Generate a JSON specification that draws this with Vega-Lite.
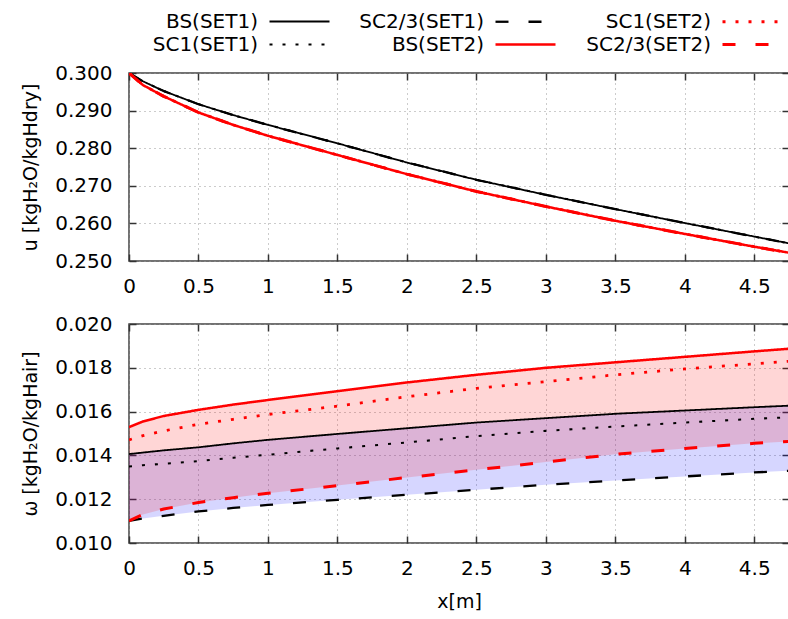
{
  "$schema": "https://vega.github.io/schema/vega-lite/v6.json",
  "background": "white",
  "padding": {"left": 20, "top": 10, "right": 0, "bottom": 0},
  "spacing": 16,
  "datasets": {
    "curves": [
      {"s":"BS(SET1)","m":"BS","set":"SET1","x":0,"u":0.3,"w":0.01406},
      {"s":"BS(SET1)","m":"BS","set":"SET1","x":0.1,"u":0.2978,"w":0.01413},
      {"s":"BS(SET1)","m":"BS","set":"SET1","x":0.25,"u":0.2952,"w":0.01423},
      {"s":"BS(SET1)","m":"BS","set":"SET1","x":0.5,"u":0.2917,"w":0.01437},
      {"s":"BS(SET1)","m":"BS","set":"SET1","x":0.75,"u":0.2888,"w":0.01455},
      {"s":"BS(SET1)","m":"BS","set":"SET1","x":1,"u":0.2862,"w":0.01471},
      {"s":"BS(SET1)","m":"BS","set":"SET1","x":1.5,"u":0.2813,"w":0.01498},
      {"s":"BS(SET1)","m":"BS","set":"SET1","x":2,"u":0.2762,"w":0.01524},
      {"s":"BS(SET1)","m":"BS","set":"SET1","x":2.5,"u":0.2716,"w":0.0155},
      {"s":"BS(SET1)","m":"BS","set":"SET1","x":3,"u":0.2676,"w":0.0157},
      {"s":"BS(SET1)","m":"BS","set":"SET1","x":3.5,"u":0.2638,"w":0.0159},
      {"s":"BS(SET1)","m":"BS","set":"SET1","x":4,"u":0.2601,"w":0.01605},
      {"s":"BS(SET1)","m":"BS","set":"SET1","x":4.5,"u":0.2565,"w":0.0162},
      {"s":"BS(SET1)","m":"BS","set":"SET1","x":4.75,"u":0.2547,"w":0.01627},

      {"s":"SC1(SET1)","m":"SC1","set":"SET1","x":0,"u":0.3,"w":0.01349},
      {"s":"SC1(SET1)","m":"SC1","set":"SET1","x":0.1,"u":0.2978,"w":0.01355},
      {"s":"SC1(SET1)","m":"SC1","set":"SET1","x":0.25,"u":0.2952,"w":0.01362},
      {"s":"SC1(SET1)","m":"SC1","set":"SET1","x":0.5,"u":0.2917,"w":0.01374},
      {"s":"SC1(SET1)","m":"SC1","set":"SET1","x":0.75,"u":0.2888,"w":0.01389},
      {"s":"SC1(SET1)","m":"SC1","set":"SET1","x":1,"u":0.2862,"w":0.01403},
      {"s":"SC1(SET1)","m":"SC1","set":"SET1","x":1.5,"u":0.2813,"w":0.01432},
      {"s":"SC1(SET1)","m":"SC1","set":"SET1","x":2,"u":0.2762,"w":0.01459},
      {"s":"SC1(SET1)","m":"SC1","set":"SET1","x":2.5,"u":0.2716,"w":0.01488},
      {"s":"SC1(SET1)","m":"SC1","set":"SET1","x":3,"u":0.2676,"w":0.01512},
      {"s":"SC1(SET1)","m":"SC1","set":"SET1","x":3.5,"u":0.2638,"w":0.01532},
      {"s":"SC1(SET1)","m":"SC1","set":"SET1","x":4,"u":0.2601,"w":0.0155},
      {"s":"SC1(SET1)","m":"SC1","set":"SET1","x":4.5,"u":0.2565,"w":0.01567},
      {"s":"SC1(SET1)","m":"SC1","set":"SET1","x":4.75,"u":0.2547,"w":0.01574},

      {"s":"SC2/3(SET1)","m":"SC23","set":"SET1","x":0,"u":0.3,"w":0.01101},
      {"s":"SC2/3(SET1)","m":"SC23","set":"SET1","x":0.1,"u":0.2978,"w":0.01112},
      {"s":"SC2/3(SET1)","m":"SC23","set":"SET1","x":0.25,"u":0.2952,"w":0.01124},
      {"s":"SC2/3(SET1)","m":"SC23","set":"SET1","x":0.5,"u":0.2917,"w":0.01144},
      {"s":"SC2/3(SET1)","m":"SC23","set":"SET1","x":0.75,"u":0.2888,"w":0.0116},
      {"s":"SC2/3(SET1)","m":"SC23","set":"SET1","x":1,"u":0.2862,"w":0.01174},
      {"s":"SC2/3(SET1)","m":"SC23","set":"SET1","x":1.5,"u":0.2813,"w":0.01197},
      {"s":"SC2/3(SET1)","m":"SC23","set":"SET1","x":2,"u":0.2762,"w":0.0122},
      {"s":"SC2/3(SET1)","m":"SC23","set":"SET1","x":2.5,"u":0.2716,"w":0.01243},
      {"s":"SC2/3(SET1)","m":"SC23","set":"SET1","x":3,"u":0.2676,"w":0.01266},
      {"s":"SC2/3(SET1)","m":"SC23","set":"SET1","x":3.5,"u":0.2638,"w":0.01285},
      {"s":"SC2/3(SET1)","m":"SC23","set":"SET1","x":4,"u":0.2601,"w":0.01304},
      {"s":"SC2/3(SET1)","m":"SC23","set":"SET1","x":4.5,"u":0.2565,"w":0.01322},
      {"s":"SC2/3(SET1)","m":"SC23","set":"SET1","x":4.75,"u":0.2547,"w":0.0133},

      {"s":"BS(SET2)","m":"BS","set":"SET2","x":0,"u":0.3,"w":0.01529},
      {"s":"BS(SET2)","m":"BS","set":"SET2","x":0.1,"u":0.2968,"w":0.01555},
      {"s":"BS(SET2)","m":"BS","set":"SET2","x":0.25,"u":0.2938,"w":0.0158},
      {"s":"BS(SET2)","m":"BS","set":"SET2","x":0.5,"u":0.2895,"w":0.01608},
      {"s":"BS(SET2)","m":"BS","set":"SET2","x":0.75,"u":0.2862,"w":0.01632},
      {"s":"BS(SET2)","m":"BS","set":"SET2","x":1,"u":0.2833,"w":0.01653},
      {"s":"BS(SET2)","m":"BS","set":"SET2","x":1.5,"u":0.2782,"w":0.01693},
      {"s":"BS(SET2)","m":"BS","set":"SET2","x":2,"u":0.2731,"w":0.01733},
      {"s":"BS(SET2)","m":"BS","set":"SET2","x":2.5,"u":0.2685,"w":0.01768},
      {"s":"BS(SET2)","m":"BS","set":"SET2","x":3,"u":0.2645,"w":0.018},
      {"s":"BS(SET2)","m":"BS","set":"SET2","x":3.5,"u":0.2607,"w":0.01825},
      {"s":"BS(SET2)","m":"BS","set":"SET2","x":4,"u":0.2572,"w":0.0185},
      {"s":"BS(SET2)","m":"BS","set":"SET2","x":4.5,"u":0.2538,"w":0.01875},
      {"s":"BS(SET2)","m":"BS","set":"SET2","x":4.75,"u":0.2522,"w":0.01887},

      {"s":"SC1(SET2)","m":"SC1","set":"SET2","x":0,"u":0.3,"w":0.01471},
      {"s":"SC1(SET2)","m":"SC1","set":"SET2","x":0.1,"u":0.2968,"w":0.0149},
      {"s":"SC1(SET2)","m":"SC1","set":"SET2","x":0.25,"u":0.2938,"w":0.01512},
      {"s":"SC1(SET2)","m":"SC1","set":"SET2","x":0.5,"u":0.2895,"w":0.01542},
      {"s":"SC1(SET2)","m":"SC1","set":"SET2","x":0.75,"u":0.2862,"w":0.01565},
      {"s":"SC1(SET2)","m":"SC1","set":"SET2","x":1,"u":0.2833,"w":0.01587},
      {"s":"SC1(SET2)","m":"SC1","set":"SET2","x":1.5,"u":0.2782,"w":0.01625},
      {"s":"SC1(SET2)","m":"SC1","set":"SET2","x":2,"u":0.2731,"w":0.01668},
      {"s":"SC1(SET2)","m":"SC1","set":"SET2","x":2.5,"u":0.2685,"w":0.01706},
      {"s":"SC1(SET2)","m":"SC1","set":"SET2","x":3,"u":0.2645,"w":0.01737},
      {"s":"SC1(SET2)","m":"SC1","set":"SET2","x":3.5,"u":0.2607,"w":0.01768},
      {"s":"SC1(SET2)","m":"SC1","set":"SET2","x":4,"u":0.2572,"w":0.01795},
      {"s":"SC1(SET2)","m":"SC1","set":"SET2","x":4.5,"u":0.2538,"w":0.01818},
      {"s":"SC1(SET2)","m":"SC1","set":"SET2","x":4.75,"u":0.2522,"w":0.0183},

      {"s":"SC2/3(SET2)","m":"SC23","set":"SET2","x":0,"u":0.3,"w":0.01101},
      {"s":"SC2/3(SET2)","m":"SC23","set":"SET2","x":0.1,"u":0.2968,"w":0.0113},
      {"s":"SC2/3(SET2)","m":"SC23","set":"SET2","x":0.25,"u":0.2938,"w":0.01155},
      {"s":"SC2/3(SET2)","m":"SC23","set":"SET2","x":0.5,"u":0.2895,"w":0.01185},
      {"s":"SC2/3(SET2)","m":"SC23","set":"SET2","x":0.75,"u":0.2862,"w":0.01207},
      {"s":"SC2/3(SET2)","m":"SC23","set":"SET2","x":1,"u":0.2833,"w":0.01227},
      {"s":"SC2/3(SET2)","m":"SC23","set":"SET2","x":1.5,"u":0.2782,"w":0.01262},
      {"s":"SC2/3(SET2)","m":"SC23","set":"SET2","x":2,"u":0.2731,"w":0.01299},
      {"s":"SC2/3(SET2)","m":"SC23","set":"SET2","x":2.5,"u":0.2685,"w":0.01334},
      {"s":"SC2/3(SET2)","m":"SC23","set":"SET2","x":3,"u":0.2645,"w":0.0137},
      {"s":"SC2/3(SET2)","m":"SC23","set":"SET2","x":3.5,"u":0.2607,"w":0.01405},
      {"s":"SC2/3(SET2)","m":"SC23","set":"SET2","x":4,"u":0.2572,"w":0.01432},
      {"s":"SC2/3(SET2)","m":"SC23","set":"SET2","x":4.5,"u":0.2538,"w":0.01455},
      {"s":"SC2/3(SET2)","m":"SC23","set":"SET2","x":4.75,"u":0.2522,"w":0.01464}
    ]
  },
  "vconcat": [
    {
      "width": 660,
      "height": 188,
      "data": {"name": "curves"},
      "layer": [
        {
          "mark": {"type": "line", "clip": true},
          "encoding": {
            "x": {"field": "x", "type": "quantitative", "scale": {"domain": [0, 4.75], "nice": false, "zero": false},
                  "axis": {"title": null, "format": "~g", "values": [0,0.5,1,1.5,2,2.5,3,3.5,4,4.5]}},
            "y": {"field": "u", "type": "quantitative", "scale": {"domain": [0.25, 0.3], "nice": false, "zero": false},
                  "axis": {"title": "u [kgH₂O/kgHdry]", "format": ".3f", "values": [0.25,0.26,0.27,0.28,0.29,0.3]}},
            "color": {"field": "s", "type": "nominal",
                      "scale": {"domain": ["BS(SET1)","SC1(SET1)","SC2/3(SET1)","BS(SET2)","SC1(SET2)","SC2/3(SET2)"],
                                "range": ["#000000","#000000","#000000","#ff0000","#ff0000","#ff0000"]},
                      "legend": {"title": null}},
            "strokeDash": {"field": "s", "type": "nominal",
                      "scale": {"domain": ["BS(SET1)","SC1(SET1)","SC2/3(SET1)","BS(SET2)","SC1(SET2)","SC2/3(SET2)"],
                                "range": [[1,0],[3,10],[13,20],[1,0],[3,10],[13,20]]}},
            "strokeWidth": {"field": "s", "type": "nominal",
                      "scale": {"domain": ["BS(SET1)","SC1(SET1)","SC2/3(SET1)","BS(SET2)","SC1(SET2)","SC2/3(SET2)"],
                                "range": [1.8,3,3,2,3,3]}},
            "order": {"field": "x", "type": "quantitative"}
          }
        },
        {
          "mark": {"type": "line", "opacity": 0},
          "encoding": {
            "x": {"field": "x", "type": "quantitative",
                  "axis": {"orient": "top", "title": null, "labels": false, "grid": false, "values": [0,0.5,1,1.5,2,2.5,3,3.5,4,4.5]}},
            "y": {"field": "u", "type": "quantitative",
                  "axis": {"orient": "right", "title": null, "labels": false, "grid": false, "values": [0.25,0.26,0.27,0.28,0.29,0.3]}},
            "detail": {"field": "s"}
          }
        }
      ],
      "resolve": {"axis": {"x": "independent", "y": "independent"}}
    },
    {
      "width": 660,
      "height": 219,
      "data": {"name": "curves"},
      "layer": [
        {
          "transform": [
            {"filter": {"field": "set", "equal": "SET1"}},
            {"aggregate": [{"op": "max", "field": "w", "as": "hi"}, {"op": "min", "field": "w", "as": "lo"}], "groupby": ["x"]}
          ],
          "mark": {"type": "area", "color": "#0000ff", "fillOpacity": 0.16, "clip": true},
          "encoding": {
            "x": {"field": "x", "type": "quantitative", "scale": {"domain": [0, 4.75], "nice": false, "zero": false},
                  "axis": {"title": "x[m]", "format": "~g", "values": [0,0.5,1,1.5,2,2.5,3,3.5,4,4.5]}},
            "y": {"field": "hi", "type": "quantitative", "scale": {"domain": [0.01, 0.02], "nice": false, "zero": false},
                  "axis": {"title": "ω [kgH₂O/kgHair]", "format": ".3f", "values": [0.01,0.012,0.014,0.016,0.018,0.02]}},
            "y2": {"field": "lo"}
          }
        },
        {
          "transform": [
            {"filter": {"field": "set", "equal": "SET2"}},
            {"aggregate": [{"op": "max", "field": "w", "as": "hi"}, {"op": "min", "field": "w", "as": "lo"}], "groupby": ["x"]}
          ],
          "mark": {"type": "area", "color": "#ff0000", "fillOpacity": 0.16, "clip": true},
          "encoding": {
            "x": {"field": "x", "type": "quantitative", "axis": null},
            "y": {"field": "hi", "type": "quantitative", "axis": null},
            "y2": {"field": "lo"}
          }
        },
        {
          "mark": {"type": "line", "clip": true},
          "encoding": {
            "x": {"field": "x", "type": "quantitative", "axis": null},
            "y": {"field": "w", "type": "quantitative", "axis": null},
            "color": {"field": "s", "type": "nominal"},
            "strokeDash": {"field": "s", "type": "nominal"},
            "strokeWidth": {"field": "s", "type": "nominal"},
            "order": {"field": "x", "type": "quantitative"}
          }
        },
        {
          "mark": {"type": "line", "opacity": 0},
          "encoding": {
            "x": {"field": "x", "type": "quantitative",
                  "axis": {"orient": "top", "title": null, "labels": false, "grid": false, "values": [0,0.5,1,1.5,2,2.5,3,3.5,4,4.5]}},
            "y": {"field": "w", "type": "quantitative",
                  "axis": {"orient": "right", "title": null, "labels": false, "grid": false, "values": [0.01,0.012,0.014,0.016,0.018,0.02]}},
            "detail": {"field": "s"}
          }
        }
      ],
      "resolve": {"axis": {"x": "independent", "y": "independent"}}
    }
  ],
  "config": {
    "font": "DejaVu Sans",
    "view": {"stroke": "#444444", "strokeWidth": 1.5},
    "axis": {
      "labelFont": "DejaVu Sans", "labelFontSize": 20, "labelColor": "#000000",
      "titleFont": "DejaVu Sans", "titleFontSize": 19, "titleFontWeight": "normal", "titleColor": "#000000",
      "domain": false, "tickSize": -7, "tickColor": "#333333", "tickWidth": 1.5,
      "grid": true, "gridDash": [1, 4], "gridColor": "#999999", "gridOpacity": 1, "gridWidth": 1,
      "labelFlush": false, "labelOverlap": false, "labelPadding": 22, "titlePadding": 14
    },
    "axisY": {"labelPadding": 24},
    "legend": {
      "orient": "none", "legendX": 24, "legendY": -63, "columns": 3, "direction": "vertical",
      "symbolType": "M-3,0L3,0", "symbolSize": 400, "symbolOffset": 135, "labelOffset": -53, "labelAlign": "right",
      "labelFont": "DejaVu Sans", "labelFontSize": 20, "labelColor": "#000000",
      "rowPadding": 1, "columnPadding": 25, "symbolStrokeColor": "#000000", "padding": 0
    }
  }
}
